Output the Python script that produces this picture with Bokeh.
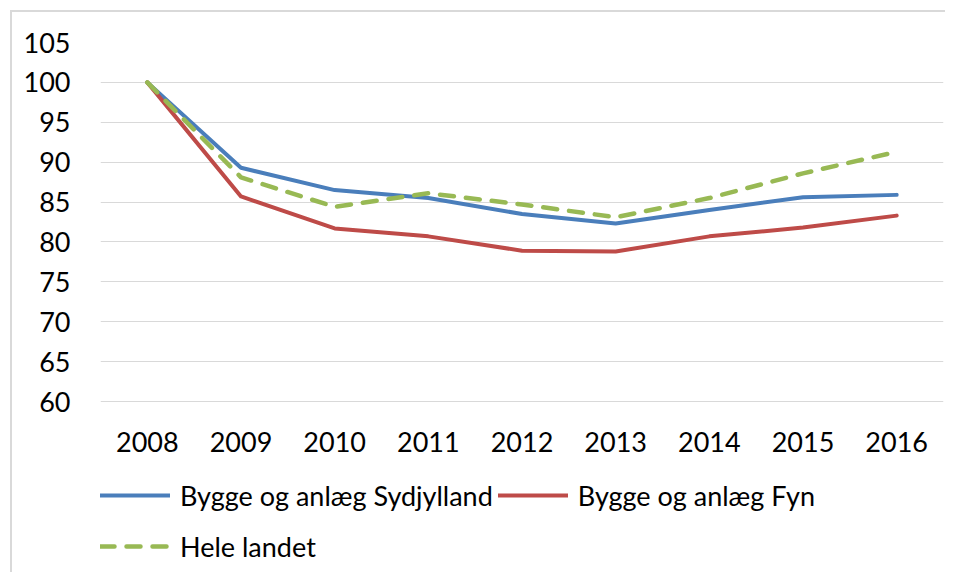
from bokeh.plotting import figure
from bokeh.models import Legend, LegendItem, FixedTicker, Range1d
from bokeh.embed import file_html
from bokeh.resources import INLINE

years = ["2008", "2009", "2010", "2011", "2012", "2013", "2014", "2015", "2016"]
sydjylland = [100, 89.3, 86.5, 85.5, 83.5, 82.3, 84.0, 85.6, 85.9]
fyn = [100, 85.7, 81.7, 80.7, 78.9, 78.8, 80.7, 81.8, 83.3]
hele_landet = [100, 88.1, 84.4, 86.1, 84.7, 83.1, 85.5, 88.6, 91.3]
y_ticks = [60, 65, 70, 75, 80, 85, 90, 95, 100, 105]

FONT = "Lato"
FSIZE = "27px"

# layout: frame spans the full lower area so the legend can sit inside it;
# the category axis is pinned at the lowest tick value (60).
W, H = 935, 562
TOP, BOTTOM = 30, 2
frame_h = H - TOP - BOTTOM
px_per_unit = 359 / (y_ticks[-1] - y_ticks[0])
y_low = y_ticks[-1] - frame_h / px_per_unit

p = figure(x_range=years, y_range=Range1d(y_low, y_ticks[-1]), width=W, height=H,
           output_backend="svg", toolbar_location=None,
           min_border_left=88, min_border_right=4, min_border_top=TOP, min_border_bottom=BOTTOM)
p.outline_line_color = None
p.background_fill_color = "white"
p.border_fill_color = "white"

l1 = p.line(years, sydjylland, line_color="#4A7EBB", line_width=4, line_join="round", line_cap="round")
l2 = p.line(years, fyn, line_color="#BE4B48", line_width=4, line_join="round", line_cap="round")
l3 = p.line(years, hele_landet, line_color="#98B954", line_width=4.5, line_dash="14 12",
            line_join="round", line_cap="round")

p.yaxis.ticker = FixedTicker(ticks=y_ticks)
p.ygrid.grid_line_color = "#D9D9D9"
p.ygrid.grid_line_width = 1
p.xgrid.grid_line_color = None
for ax in (p.xaxis[0], p.yaxis[0]):
    ax.axis_line_color = None
    ax.major_tick_line_color = None
    ax.minor_tick_line_color = None
    ax.major_label_text_font = FONT
    ax.major_label_text_font_size = FSIZE
    ax.major_label_text_color = "#000000"
p.yaxis.major_label_standoff = 24
p.xaxis.major_label_standoff = 24
p.xaxis.fixed_location = y_ticks[0]

legend = Legend(items=[LegendItem(label="Bygge og anlæg Sydjylland", renderers=[l1]),
                       LegendItem(label="Bygge og anlæg Fyn", renderers=[l2]),
                       LegendItem(label="Hele landet", renderers=[l3])],
                orientation="horizontal", ncols=2, location=(0, 3),
                label_text_font=FONT, label_text_font_size=FSIZE,
                glyph_width=70, glyph_height=20, label_standoff=10,
                spacing=5, padding=0, margin=0,
                border_line_color=None, background_fill_alpha=0,
                label_height=46)
legend.label_text_color = "#000000"
p.add_layout(legend, "center")
p.styles = {"margin-left": "10px", "margin-top": "10px",
            "border-left": "2px solid #D9D9D9", "border-top": "2px solid #D9D9D9"}

open("out.html", "w").write(file_html(p, INLINE))
